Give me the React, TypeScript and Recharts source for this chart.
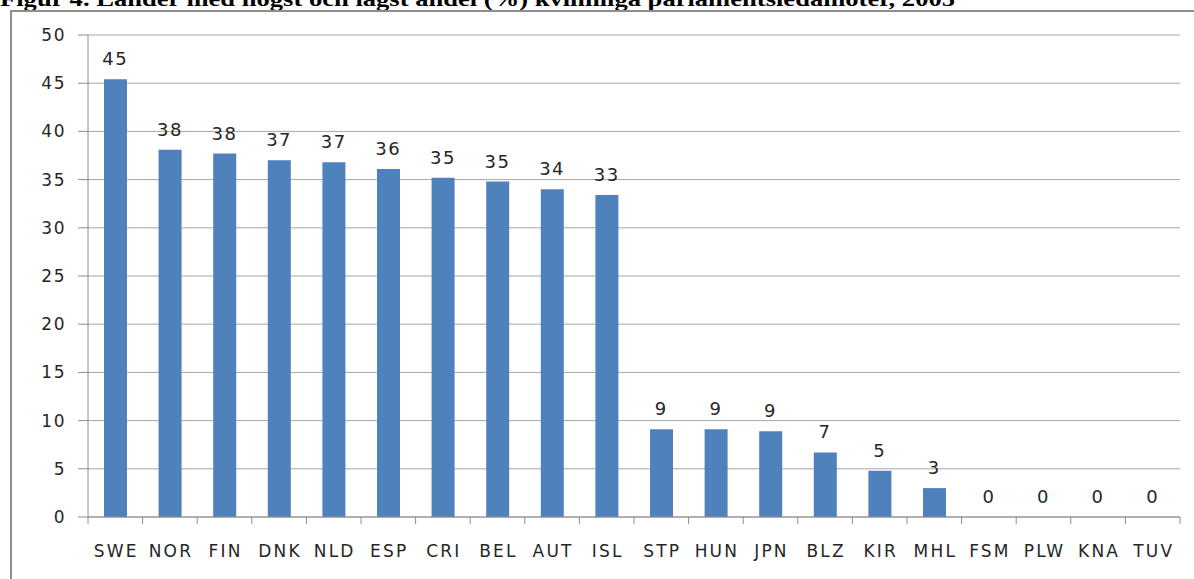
import React from 'react';
import { ComposedChart, Bar, Line, XAxis, YAxis, CartesianGrid, LabelList } from 'recharts';

const countries = ['SWE', 'NOR', 'FIN', 'DNK', 'NLD', 'ESP', 'CRI', 'BEL', 'AUT', 'ISL', 'STP', 'HUN', 'JPN', 'BLZ', 'KIR', 'MHL', 'FSM', 'PLW', 'KNA', 'TUV'];
const shares = [45.4, 38.1, 37.7, 37.0, 36.8, 36.1, 35.2, 34.8, 34.0, 33.4, 9.1, 9.1, 8.9, 6.7, 4.8, 3.0, 0, 0, 0, 0];
const yTicks = [0, 5, 10, 15, 20, 25, 30, 35, 40, 45, 50];
const title = 'Figur 4. Länder med högst och lägst andel (%) kvinnliga parlamentsledamöter, 2005';

const data = countries.map((c, i) => ({ country: c, share: shares[i] }));

const W = 1194;
const H = 579;
const M_LEFT = 0;
const Y_W = 88;
const M_RIGHT = 14;
const PLOT_W = W - M_LEFT - Y_W - M_RIGHT;
const BAND = PLOT_W / countries.length;

const FONT = '"DejaVu Sans", sans-serif';
const TEXT = '#262626';

const XTick = (props: any) => {
  const { x, y, payload, index } = props;
  const last = index === countries.length - 1;
  return (
    <g>
      <line x1={x - BAND / 2} y1={y} x2={x - BAND / 2} y2={y + 7} stroke="#8c8c8c" strokeWidth={1} />
      {last && <line x1={x + BAND / 2} y1={y} x2={x + BAND / 2} y2={y + 7} stroke="#8c8c8c" strokeWidth={1} />}
      <text x={x + 1} y={y + 40} textAnchor="middle" fontFamily={FONT} fontSize={17} letterSpacing={2.2} fill={TEXT}>
        {payload.value}
      </text>
    </g>
  );
};

export default function App() {
  return (
    <div style={{ position: 'fixed', left: 0, top: 0, width: W, height: H, overflow: 'hidden', background: '#fff' }}>
      <svg width={W} height={20} style={{ position: 'absolute', left: 0, top: 0 }}>
        <text x={0} y={6} textLength={955} lengthAdjust="spacingAndGlyphs" fontFamily='"Liberation Serif", serif' fontWeight="bold" fontSize={22} fill="#000">
          {title}
        </text>
      </svg>
      <div style={{ position: 'absolute', left: 10, top: 10, width: 1220, height: 620, border: '2px solid #8e8e8e', boxSizing: 'border-box' }} />
      <div style={{ position: 'absolute', left: 0, top: 0 }}>
        <ComposedChart width={W} height={H} data={data} margin={{ top: 35, right: M_RIGHT, left: M_LEFT, bottom: 22 }}>
          <CartesianGrid vertical={false} stroke="#a6a6a6" strokeWidth={1} />
          <XAxis
            dataKey="country"
            interval={0}
            tickLine={false}
            tickSize={0}
            tickMargin={0}
            height={40}
            axisLine={{ stroke: '#8c8c8c' }}
            tick={<XTick />}
          />
          <YAxis
            domain={[0, 50]}
            ticks={yTicks}
            width={Y_W}
            tickSize={10}
            tickMargin={12}
            axisLine={{ stroke: '#8c8c8c' }}
            tickLine={{ stroke: '#8c8c8c' }}
            tick={{ fontFamily: FONT, fontSize: 17, fill: TEXT, letterSpacing: 1.5 }}
          />
          <Bar dataKey="share" fill="#4f81bd" barSize={23} isAnimationActive={false} />
          <Line dataKey="share" stroke="none" dot={false} activeDot={false} isAnimationActive={false}>
            <LabelList
              dataKey="share"
              position="top"
              offset={14}
              formatter={(v: any) => Math.round(Number(v))}
              style={{ fontFamily: FONT, fontSize: 18, fill: TEXT, letterSpacing: 1.5 }}
            />
          </Line>
        </ComposedChart>
      </div>
    </div>
  );
}
